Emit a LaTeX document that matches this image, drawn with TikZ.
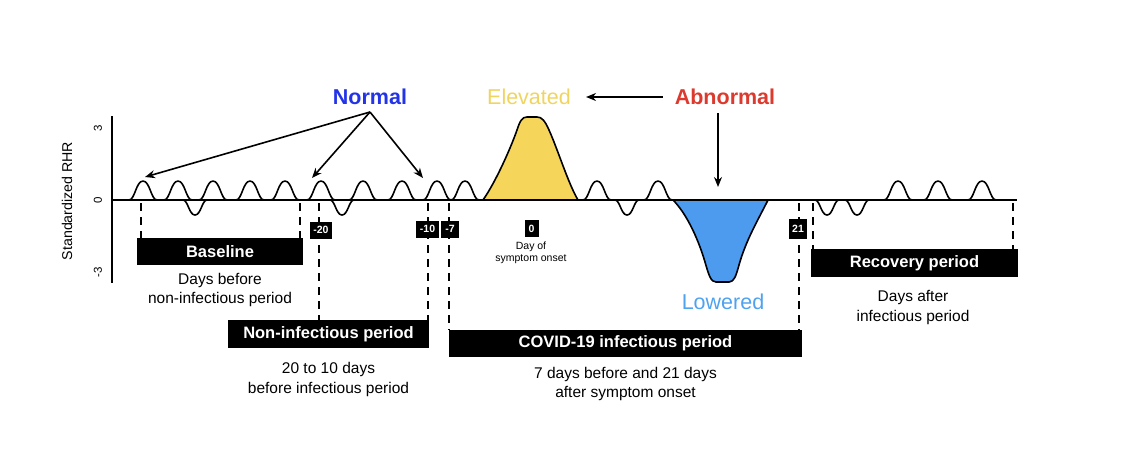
\documentclass[tikz,border=0pt]{standalone}
\usepackage{fontspec}
\setmainfont{Liberation Sans}
\usetikzlibrary{arrows.meta}
\definecolor{normblue}{RGB}{35,52,232}
\definecolor{abred}{RGB}{220,58,46}
\definecolor{elevtxt}{RGB}{240,212,96}
\definecolor{elevfill}{RGB}{246,214,90}
\definecolor{lowfill}{RGB}{76,155,239}
\definecolor{lowtxt}{RGB}{78,162,240}
\begin{document}
\begin{tikzpicture}[x=1pt,y=-1pt,
  bumpline/.style={line width=1.6pt, line join=round},
  dashline/.style={line width=2.6pt, dash pattern=on 8pt off 6pt},
  bigbox/.style={fill=black, text=white, font=\fontsize{16.5}{19}\selectfont\bfseries, minimum height=27pt, inner sep=0pt},
  daybox/.style={fill=black, text=white, font=\fontsize{10.5}{11}\selectfont\bfseries, minimum height=17pt, inner sep=1pt},
  sub/.style={align=center, font=\fontsize{15.5}{19.5}\selectfont, inner sep=0pt},
  ptr/.style={line width=1.6pt, -{Stealth[length=10pt,width=8pt]}},
  cat/.style={font=\fontsize{21.5}{25}\selectfont, inner sep=0pt},
  catb/.style={font=\fontsize{21.5}{25}\selectfont\bfseries, inner sep=0pt},
  axlab/.style={rotate=90, inner sep=0pt}]
\path[use as bounding box] (0,0) rectangle (1125,459);

% axis labels
\node[axlab, font=\fontsize{14.2}{16}\selectfont] (ylab) at (67,201) {Standardized RHR};
\node[axlab, font=\fontsize{11.5}{12}\selectfont] (t3) at (98,128) {3};
\node[axlab, font=\fontsize{11.5}{12}\selectfont] (t0) at (98,200) {0};
\node[axlab, font=\fontsize{11.5}{12}\selectfont] (tm3) at (98,272) {-3};
\draw[line width=1.6pt] (112,116) -- (112,283);

% positive bumps
\foreach \c in {143,178,213,250,285,321,363,402,437,465,597,658,898,938,982}{
  \draw[bumpline] ({\c-14},200) .. controls ({\c-8},200) and ({\c-7},181) .. (\c,181)
    .. controls ({\c+7},181) and ({\c+8},200) .. ({\c+14},200);
}
% negative bumps
\foreach \c in {195,342,627,827,857}{
  \draw[bumpline] ({\c-12},200) .. controls ({\c-7},200) and ({\c-6},215) .. (\c,215)
    .. controls ({\c+6},215) and ({\c+7},200) .. ({\c+12},200);
}
% elevated
\draw[bumpline, fill=elevfill] (483,200) .. controls (495,183) and (510,150) .. (517,130)
  .. controls (520,121) and (522,117) .. (527,117) -- (537,117)
  .. controls (542,117) and (545,121) .. (549,130)
  .. controls (558,150) and (568,183) .. (578,200) -- cycle;
% lowered
\draw[bumpline, fill=lowfill] (673,200) .. controls (685,212) and (697,235) .. (705,262)
  .. controls (709,276) and (711,282) .. (716,282) -- (729,282)
  .. controls (734,282) and (736,276) .. (739,265)
  .. controls (746,240) and (758,220) .. (768,200) -- cycle;
% baseline
\draw[line width=1.8pt] (112,200) -- (1017,200);

% period boxes
\node[bigbox, minimum width=166pt] (bl) at (220,251.5) {Baseline};
\node[bigbox, minimum width=201pt, minimum height=28pt] (ni) at (328.5,334) {Non-infectious period};
\node[bigbox, minimum width=353pt] (cv) at (625.5,343.5) {COVID-19 infectious period};
\node[bigbox, minimum width=207pt, minimum height=28pt] (rc) at (914.5,263) {Recovery period};

% dashed markers
\coordinate (d1) at (141,203);
\coordinate (d2) at (300,203);
\coordinate (d3) at (319,203);
\coordinate (d4) at (428,203);
\coordinate (d5) at (449,203);
\coordinate (d6) at (799,203);
\coordinate (d7) at (813,203);
\coordinate (d8) at (1013,203);
\draw[dashline] (d1) -- (d1 |- bl.north);
\draw[dashline] (d2) -- (d2 |- bl.north);
\draw[dashline] (d3) -- (d3 |- ni.north);
\draw[dashline] (d4) -- (d4 |- ni.north);
\draw[dashline] (d5) -- (d5 |- cv.north);
\draw[dashline] (d6) -- (d6 |- cv.north);
\draw[dashline] (d7) -- (d7 |- rc.north);
\draw[dashline] (d8) -- (d8 |- rc.north);

% day boxes
\node[daybox, minimum width=22pt] (m20) at (321,230) {-20};
\node[daybox, minimum width=23pt] (m10) at (427.5,229) {-10};
\node[daybox, minimum width=18pt] (m7) at (450,229) {-7};
\node[daybox, minimum width=14pt] (z0) at (531.5,228.5) {0};
\node[daybox, minimum width=18pt, minimum height=20pt] (p21) at (798,229) {21};
\node[align=center, font=\fontsize{10.5}{11.5}\selectfont, inner sep=0pt] (dayof) at (531,253) {Day of\\symptom onset};

% subtitles
\node[sub] (sbl) at (220,290) {Days before\\non-infectious period};
\node[sub] (sni) at (328.5,379.5) {20 to 10 days\\before infectious period};
\node[sub] (scv) at (625.5,384) {7 days before and 21 days\\after symptom onset};
\node[sub] (src) at (913,307.5) {Days after\\infectious period};

% category labels
\node[catb, text=normblue] (normal) at (370,97) {Normal};
\node[cat, text=elevtxt] (elev) at (529,97) {Elevated};
\node[catb, text=abred] (abn) at (725,97) {Abnormal};
\node[cat, text=lowtxt] (low) at (723,302) {Lowered};

% arrows
\coordinate (nsrc) at (370,112);
\coordinate (n1) at (145,177);
\coordinate (n2) at (312,178);
\coordinate (n3) at (423,178);
\draw[ptr] (nsrc) -- (n1);
\draw[ptr] (nsrc) -- (n2);
\draw[ptr] (nsrc) -- (n3);
\draw[ptr] ([xshift=-12pt]abn.west) -- ([xshift=15pt]elev.east);
\coordinate (dtip) at (718,187);
\draw[ptr] ([yshift=-8pt]abn.south -| dtip) -- (dtip);
\end{tikzpicture}
\end{document}
